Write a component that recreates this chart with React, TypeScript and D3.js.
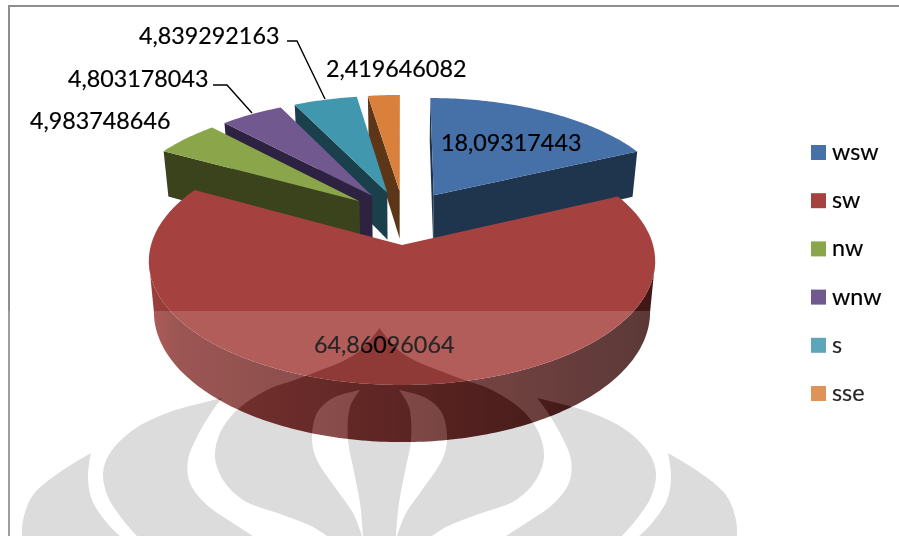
import React from "react";
import * as d3 from "d3";

// Wind direction shares, in slice order clockwise from twelve o'clock.
const categories = ["wsw", "sw", "nw", "wnw", "s", "sse"];
const shares = [18.09317443, 64.86096064, 4.983748646, 4.803178043, 4.839292163, 2.419646082];
const topColors = ["#4571a8", "#a5423f", "#8aa54a", "#71588f", "#4197ae", "#d9813c"];
const wallColors = ["#1f354e", "url(#swWall)", "#3a431c", "#2d2340", "#1a404c", "#5d3617"];

const WIDTH = 899;
const HEIGHT = 536;
const FONT = "Lato, sans-serif";

// Perspective disc: origin sits on the apex of the largest slice.
const ORIGIN_X = 402;
const ORIGIN_Y = 245;
const RADIUS_X = 251;
const RADIUS_Y = 121.8;
const PERSPECTIVE = 0.13;
const EXPLODE = 0.234;
const BASE_SCALE_X = 0.98;
const BASE_RADIUS_Y = 128;
const BASE_DROP = 50;

type Pt = [number, number];

const pieAngles = d3.pie<number>().sort(null).startAngle(0).endAngle(2 * Math.PI)(shares);
const color = d3.scaleOrdinal<string, string>().domain(categories).range(topColors);
const wallColor = d3.scaleOrdinal<string, string>().domain(categories).range(wallColors);

const swMid = (pieAngles[1].startAngle + pieAngles[1].endAngle) / 2;
const swOffset: Pt = [EXPLODE * Math.sin(swMid), -EXPLODE * Math.cos(swMid)];

function project(x: number, y: number, base: boolean): Pt {
  const s = 1 / (1 - PERSPECTIVE * y);
  if (base) {
    return [ORIGIN_X + RADIUS_X * BASE_SCALE_X * x * s, ORIGIN_Y + BASE_DROP + BASE_RADIUS_Y * y * s];
  }
  return [ORIGIN_X + RADIUS_X * x * s, ORIGIN_Y + RADIUS_Y * y * s];
}

const polyline = d3.line<Pt>();
const closed = (pts: Pt[]) => (polyline(pts) ?? "") + "Z";
const orientation = (pts: Pt[]) => d3.polygonArea(pts);

interface Piece {
  key: string;
  walls: string[];
  top: string;
}

function buildPiece(i: number): Piece {
  const slice = pieAngles[i];
  const mid = (slice.startAngle + slice.endAngle) / 2;
  const ox = EXPLODE * Math.sin(mid) - swOffset[0];
  const oy = -EXPLODE * Math.cos(mid) - swOffset[1];
  const steps = Math.max(6, Math.ceil((slice.endAngle - slice.startAngle) * 60));
  const angles = d3.range(steps + 1).map((k) => slice.startAngle + ((slice.endAngle - slice.startAngle) * k) / steps);
  const rim = (a: number, base: boolean) => project(ox + Math.sin(a), oy - Math.cos(a), base);
  const apexTop = project(ox, oy, false);
  const apexBase = project(ox, oy, true);

  const walls: string[] = [];
  // Radial faces: only the ones turned towards the viewer are kept.
  const startFace: Pt[] = [apexTop, rim(slice.startAngle, false), rim(slice.startAngle, true), apexBase];
  const endFace: Pt[] = [apexTop, rim(slice.endAngle, false), rim(slice.endAngle, true), apexBase];
  if (orientation(startFace) > 0) walls.push(closed(startFace));
  if (orientation(endFace) < 0) walls.push(closed(endFace));
  // Outer rim: only the run that faces the viewer.
  const front = angles.filter((a) => Math.cos(a) < -PERSPECTIVE);
  if (front.length > 1) {
    walls.push(closed([...front.map((a) => rim(a, false)), ...front.slice().reverse().map((a) => rim(a, true))]));
  }
  return { key: categories[i], walls, top: closed([apexTop, ...angles.map((a) => rim(a, false))]) };
}

// Back to front so nearer slices cover the farther ones.
const drawOrder = [5, 4, 3, 2, 0, 1];
const pieces = drawOrder.map(buildPiece);

const valueLabel = (v: number) => String(v).replace(".", ",");
const labelAnchors: Pt[] = [[441, 151], [314, 353], [30, 129], [68, 87], [139, 44], [326, 77]];
const leaders: Pt[][] = [
  [],
  [],
  [],
  [[213, 85], [227, 85], [252, 113]],
  [[287, 41], [297, 41], [325, 99]],
  [],
];

// Crest drawn faintly across the lower part of the page; halves mirror around this axis.
const AXIS = 379.5;
const smooth = d3.line<Pt>().curve(d3.curveCatmullRom.alpha(0.5));
const chain = (runs: Pt[][]) =>
  runs.map((r, i) => (i === 0 ? smooth(r) : (smooth(r) ?? "").replace(/^M/, "L"))).join("") + "Z";
const mirror = (r: Pt[]): Pt[] => r.map(([x, y]) => [2 * AXIS - x, y] as Pt).reverse();

const outerLobe: Pt[][] = [
  [[91, 453], [60, 472], [33, 495], [23, 520], [22, 536]],
  [[120, 536], [107, 523], [92, 500], [88, 477], [91, 453]],
];
const middleLobe: Pt[][] = [
  [[222, 398], [167, 413], [133, 430], [110, 453], [103, 473], [108, 497], [123, 520], [137, 536]],
  [[253, 536], [233, 523], [207, 505], [190, 483], [188, 460], [197, 437], [213, 410], [222, 398]],
];
const domeEdge: Pt[] = [[379.5, 328], [357, 353], [303, 377], [267, 390], [237, 410], [220, 433], [215, 457], [223, 480], [243, 500], [283, 515], [313, 527], [327, 536]];
const cutOuter: Pt[] = [[362, 536], [360, 530], [353, 513], [337, 490], [317, 460], [312, 440], [317, 413], [333, 398], [360, 390]];
const cutInner: Pt[] = [[360, 390], [350, 407], [348, 440], [353, 467], [360, 503], [363, 536]];
const crestCentre = chain([domeEdge, cutOuter, cutInner, mirror(cutInner), mirror(cutOuter), mirror(domeEdge)]);

const crestPaths = [
  chain(outerLobe),
  chain(outerLobe.map(mirror).reverse()),
  chain(middleLobe),
  chain(middleLobe.map(mirror).reverse()),
  crestCentre,
];

const legendY = d3.scalePoint<string>().domain(categories).range([145, 386]);

export default function App() {
  return (
    <svg
      width={WIDTH}
      height={HEIGHT}
      viewBox={`0 0 ${WIDTH} ${HEIGHT}`}
      style={{ position: "absolute", left: 0, top: 0, display: "block", isolation: "isolate" }}
    >
      <defs>
        <linearGradient id="swWall" gradientUnits="userSpaceOnUse" x1={149} x2={655} y1={0} y2={0}>
          <stop offset="0" stopColor="#a03f3c" />
          <stop offset="0.06" stopColor="#8b3a37" />
          <stop offset="0.45" stopColor="#6e2b29" />
          <stop offset="1" stopColor="#3f1715" />
        </linearGradient>
      </defs>
      <rect width={WIDTH} height={HEIGHT} fill="#ffffff" />
      <path d={`M9 ${HEIGHT}V6H${WIDTH}`} fill="none" stroke="#8e8e8e" strokeWidth={2} />

      {pieces.map((p) => (
        <g key={p.key}>
          {p.walls.map((d, j) => (
            <path key={j} d={d} fill={wallColor(p.key)} />
          ))}
          <path d={p.top} fill={color(p.key)} />
        </g>
      ))}

      {leaders.map((pts, i) =>
        pts.length ? <path key={i} d={polyline(pts) ?? ""} fill="none" stroke="#000" strokeWidth={1.4} /> : null
      )}
      {shares.map((v, i) => (
        <text key={i} x={labelAnchors[i][0]} y={labelAnchors[i][1]} fontFamily={FONT} fontSize={23.3} fill="#000" stroke="#000" strokeWidth={0.2}>
          {valueLabel(v)}
        </text>
      ))}

      {categories.map((c) => (
        <g key={c}>
          <rect x={811} y={legendY(c)} width={15} height={15} fill={color(c)} />
          <text x={832} y={(legendY(c) ?? 0) + 15} fontFamily={FONT} fontSize={23.3} fill="#000" stroke="#000" strokeWidth={0.2}>
            {c}
          </text>
        </g>
      ))}

      {/* Pale band over the lower page, then the crest subtracted from everything below it */}
      <rect x={0} y={311} width={WIDTH} height={HEIGHT - 311} fill="#ffffff" opacity={0.144} />
      <g style={{ mixBlendMode: "difference" }}>
        {crestPaths.map((d, i) => (
          <path key={i} d={d} fill="#232323" />
        ))}
      </g>
    </svg>
  );
}
